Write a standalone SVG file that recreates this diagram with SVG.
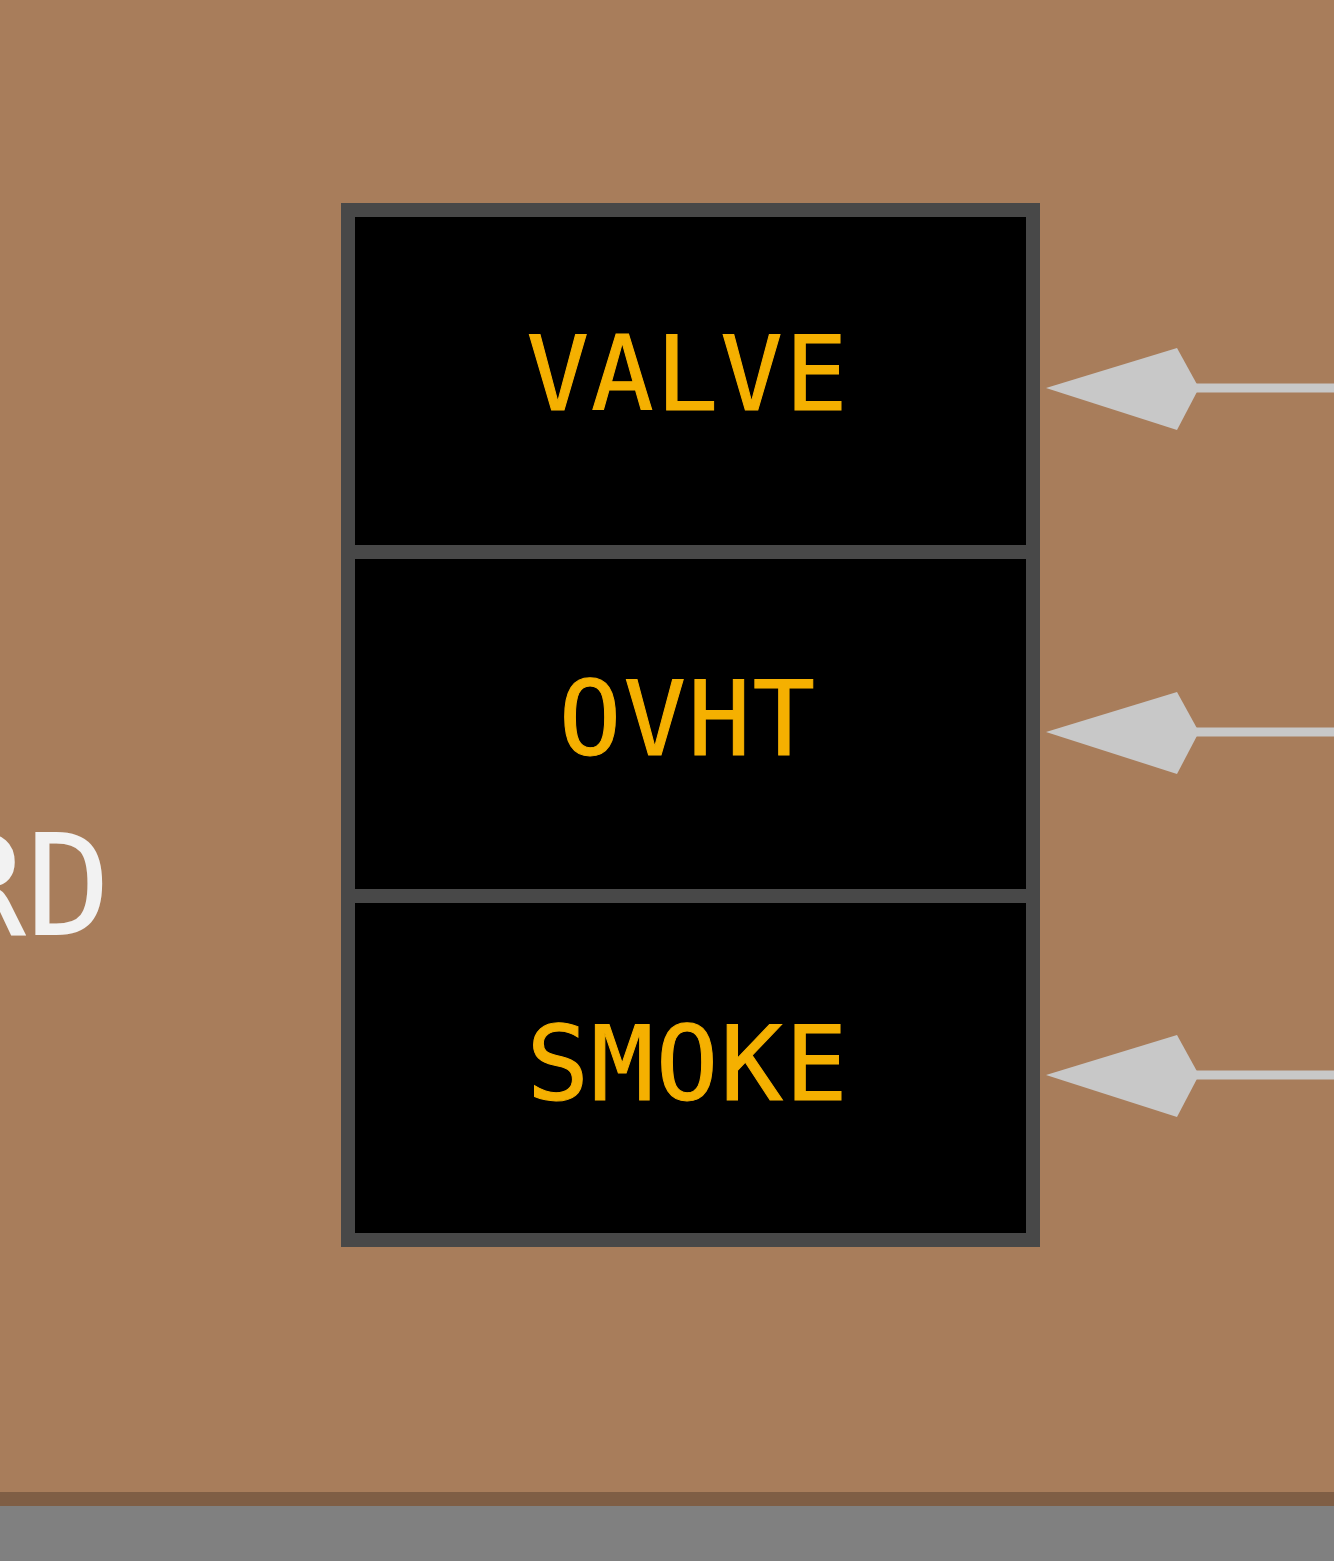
<svg xmlns="http://www.w3.org/2000/svg" width="1334" height="1561" viewBox="0 0 1334 1561">
<style>
.cell{fill:#000;stroke:#484848;stroke-width:14}
.lbl{font-family:"DejaVu Sans Mono","Liberation Mono",monospace;font-size:104px;fill:#F5B000;text-anchor:middle;letter-spacing:2px;stroke:#F5B000;stroke-width:1}
.edge{stroke:#C8C8C8;stroke-width:9;fill:none}
.head{fill:#C8C8C8}
</style>
<rect x="0" y="0" width="1334" height="1561" fill="#A87D5B"/>
<rect x="0" y="1492" width="1334" height="15" fill="#7F5E45"/>
<rect x="0" y="1506" width="1334" height="55" fill="#808080"/>
<text x="111" y="935" font-family="DejaVu Sans Mono, monospace" font-size="141" fill="#F2F2F2" text-anchor="end">RD</text>
<g id="valve"><rect class="cell" x="348" y="210" width="685" height="342"/><text class="lbl" x="688" y="410">VALVE</text></g>
<g id="ovht"><rect class="cell" x="348" y="552" width="685" height="344"/><text class="lbl" x="688" y="755">OVHT</text></g>
<g id="smoke"><rect class="cell" x="348" y="896" width="685" height="344"/><text class="lbl" x="688" y="1100">SMOKE</text></g>
<g id="connectors">
<line class="edge" x1="1195" y1="388" x2="1334" y2="388"/>
<polygon class="head" points="1046,388 1177,348 1199,388 1177,430"/>
<line class="edge" x1="1195" y1="732" x2="1334" y2="732"/>
<polygon class="head" points="1046,732 1177,692 1199,732 1177,774"/>
<line class="edge" x1="1195" y1="1075" x2="1334" y2="1075"/>
<polygon class="head" points="1046,1075 1177,1035 1199,1075 1177,1117"/>
</g>
</svg>
